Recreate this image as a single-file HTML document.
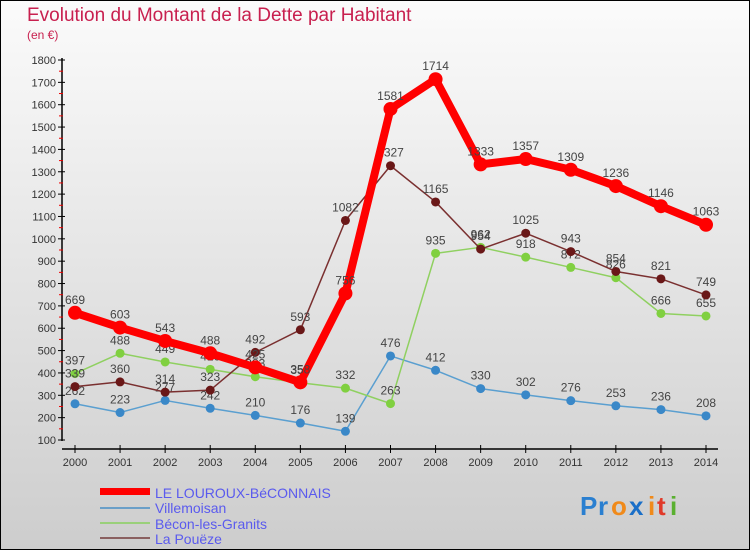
<!DOCTYPE html>
<html><head><meta charset="utf-8"><style>
body{margin:0;width:750px;height:550px;overflow:hidden;font-family:"Liberation Sans",sans-serif}
svg text{font-family:"Liberation Sans",sans-serif}
</style></head><body>
<svg id="c" width="750" height="550" xmlns="http://www.w3.org/2000/svg">
<defs><linearGradient id="bg" x1="0" y1="0" x2="0" y2="1"><stop offset="0" stop-color="#fbfbfb"/><stop offset="1" stop-color="#cdcdcd"/></linearGradient></defs>
<rect x="0.5" y="0.5" width="749" height="549" fill="url(#bg)" stroke="#000"/>
<text x="27" y="21" font-size="19" fill="#c8204f">Evolution du Montant de la Dette par Habitant</text>
<text x="27" y="39" font-size="12" fill="#c8204f">(en €)</text>
<g id="axes"></g><g id="series"></g>
<g>
<rect x="100" y="488" width="50" height="7" fill="#f00"/>
<text x="155" y="498" font-size="14" fill="#5a5aee">LE LOUROUX-BéCONNAIS</text>
<rect x="100" y="507" width="50" height="2" fill="#6a9fc8"/>
<text x="155" y="513" font-size="14" fill="#5a5aee">Villemoisan</text>
<rect x="100" y="522" width="50" height="2" fill="#9ad07a"/>
<text x="155" y="529" font-size="14" fill="#5a5aee">Bécon-les-Granits</text>
<rect x="100" y="537" width="50" height="2" fill="#8a6060"/>
<text x="155" y="544" font-size="14" fill="#5a5aee">La Pouëze</text>
</g>
<g font-size="26" font-weight="bold">
<text x="580" y="515" fill="#2a7fd0">P</text><text x="598" y="515" fill="#2a7fd0">r</text><text x="611" y="515" fill="#f08a1a">o</text><text x="629" y="515" fill="#1a6fc8">x</text><text x="648" y="515" fill="#f08a1a">i</text><text x="657" y="515" fill="#e03a2a">t</text><text x="670" y="515" fill="#5ab030">i</text>
</g>
</svg>
<script>
const years=[2000,2001,2002,2003,2004,2005,2006,2007,2008,2009,2010,2011,2012,2013,2014];
const yTicks=[100,200,300,400,500,600,700,800,900,1000,1100,1200,1300,1400,1500,1600,1700,1800];
const louroux=[669,603,543,488,425,358,756,1581,1714,1333,1357,1309,1236,1146,1063];
const villemoisan=[262,223,277,242,210,176,139,476,412,330,302,276,253,236,208];
const becon=[397,488,449,416,383,356,332,263,935,962,918,872,826,666,655];
const poueze=[339,360,314,323,492,593,1082,1327,1165,954,1025,943,854,821,749];
const NS="http://www.w3.org/2000/svg";
const X=i=>75+i*(706-75)/(years.length-1);
const Y=v=>440-(v-100)*(380/1700);
function mk(t,a,p){const e=document.createElementNS(NS,t);for(const k in a)e.setAttribute(k,a[k]);p.appendChild(e);return e;}
const ax=document.getElementById('axes');
let yl=mk('line',{x1:62,y1:58,x2:62,y2:441,stroke:'#000','stroke-width':1.5},ax);


let xl=mk('line',{x1:62,y1:449,x2:718,y2:449,stroke:'#000','stroke-width':1.5},ax);


yTicks.forEach(v=>{
  mk('line',{x1:58,y1:Y(v),x2:65,y2:Y(v),stroke:'#000'},ax);
  if(v<1800)mk('line',{x1:59,y1:Y(v+50),x2:63,y2:Y(v+50),stroke:'#e00'},ax);
  const t=mk('text',{x:56,y:Y(v)+4,'font-size':11,'text-anchor':'end',fill:'#333'},ax);t.textContent=v;
  
  
});
years.forEach((y,i)=>{
  mk('line',{x1:X(i),y1:445,x2:X(i),y2:453,stroke:'#000'},ax);
  const t=mk('text',{x:X(i),y:466,'font-size':11,'text-anchor':'middle',fill:'#333'},ax);t.textContent=y;
  
  
});
const sg=document.getElementById('series');
function series(vals,color,dot,w,r,name){
  const g=mk('g',{},sg);
  
  
  mk('polyline',{points:vals.map((v,i)=>X(i)+','+Y(v)).join(' '),fill:'none',stroke:color,'stroke-width':w,'stroke-linejoin':'round'},g);
  vals.forEach((v,i)=>{
    const c=mk('circle',{cx:X(i),cy:Y(v),r:r,fill:dot},g);
    
    
    const t=mk('text',{x:X(i),y:Y(v)-9,'font-size':12,'text-anchor':'middle',fill:'#444'},g);t.textContent=v;
    
    
  });
}
series(villemoisan,'#5a9fd0','#3a88c8',1.5,4.5,'series-villemoisan');
series(becon,'#8fd060','#80d040',1.5,4.5,'series-becon');
series(poueze,'#7a3030','#6a1818',1.5,4.5,'series-poueze');
series(louroux,'#f00','#f00',8,7,'series-louroux');
</script>
</body></html>
